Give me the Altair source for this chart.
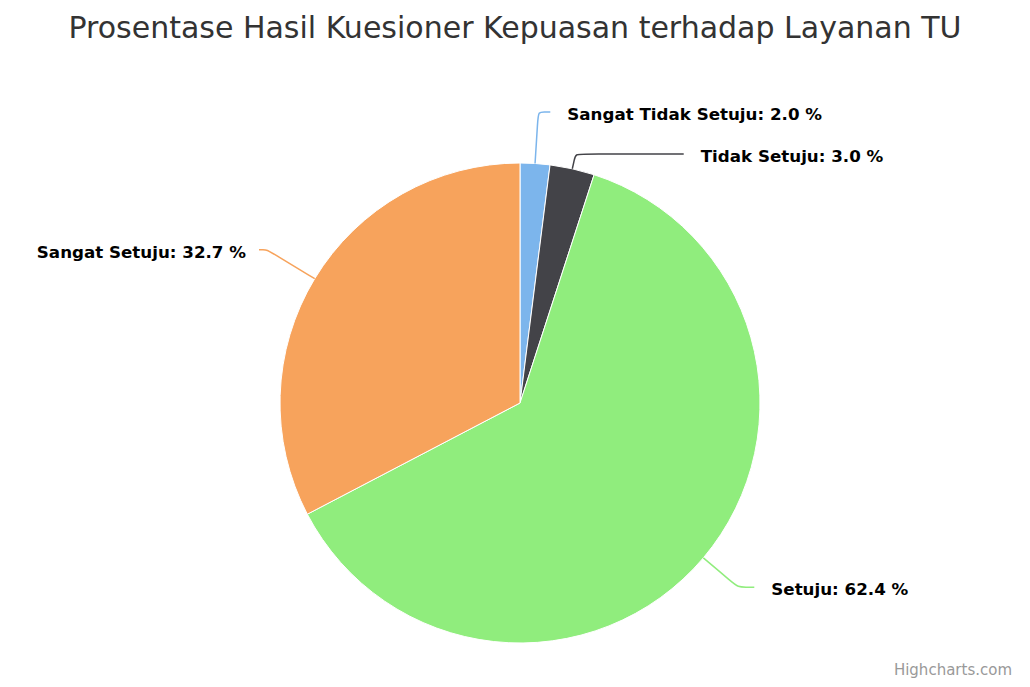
import math
import altair as alt
import pandas as pd

# ---- data ----
categories = ["Sangat Tidak Setuju", "Tidak Setuju", "Setuju", "Sangat Setuju"]
values = [2.0, 3.0, 62.4, 32.7]
colors = ["#7cb5ec", "#434348", "#90ed7d", "#f7a35c"]
title_text = "Prosentase Hasil Kuesioner Kepuasan terhadap Layanan TU"
credit_text = "Highcharts.com"

# ---- layout ----
W, H = 1014, 609
PAD_TOP = 62
CX, CY, R = 512, 333, 240
LABEL_R = 290
CONN_R = 298
SPACING = 42
TOP_LIMIT = CY - 288
FONT = "DejaVu Sans"

total = sum(values)
slices = []
cum = 0.0
for i, (c, v) in enumerate(zip(categories, values)):
    a0 = cum / total * 2 * math.pi
    cum += v
    a1 = cum / total * 2 * math.pi
    mid = (a0 + a1) / 2
    side = 1 if math.sin(mid) >= 0 else -1
    slices.append(dict(i=i, cat=c, val=v, mid=mid, side=side,
                       ny=CY - LABEL_R * math.cos(mid)))

# distribute labels per side
for side in (1, -1):
    grp = sorted([s for s in slices if s["side"] == side], key=lambda s: s["ny"])
    prev = None
    for s in grp:
        y = s["ny"]
        s["clamped"] = y < TOP_LIMIT
        y = max(y, TOP_LIMIT)
        if prev is not None:
            y = max(y, prev + SPACING)
        s["ly"] = y
        prev = y

conn_rows, lab_rows = [], []
for s in slices:
    a, side = s["mid"], s["side"]
    sa, ca = math.sin(a), math.cos(a)
    ex, ey = CX + R * sa, CY - R * ca
    endy = s["ly"] - 3
    dy = endy - CY
    # radial line meets the label's row here
    rr = abs(dy / ca) if abs(ca) > 1e-6 else R + 30
    rr = max(rr, R + 10)
    kx, ky = CX + rr * sa, CY - rr * ca
    ky = endy
    if s["clamped"]:
        endx = kx + side * 12
    else:
        endx = CX + side * math.sqrt(max(CONN_R ** 2 - dy ** 2, 0))
        if side > 0:
            endx = max(endx, kx + 8)
        else:
            endx = min(endx, kx - 8)
    # points near corner for a rounded bend
    L = math.hypot(kx - ex, ky - ey)
    t = min(8, L * 0.4) / L
    n1 = (kx - (kx - ex) * t, ky - (ky - ey) * t)
    h = min(8, abs(endx - kx) * 0.5)
    n2 = (kx + side * h, ky)
    pts = [(ex, ey), n1, (kx, ky), n2, (endx, endy)]
    for k, (px, py) in enumerate(pts):
        conn_rows.append(dict(category=s["cat"], x=px, y=py, ord=k))
    tx = endx + 17 if side > 0 else endx - 13
    lab_rows.append(dict(category=s["cat"], x=tx, y=s["ly"], side=side,
                         label=f"{s['cat']}: {s['val']:.1f} %"))

pie_df = pd.DataFrame({"category": categories, "value": values,
                       "idx": list(range(len(categories)))})
conn_df = pd.DataFrame(conn_rows)
lab_df = pd.DataFrame(lab_rows)

color_scale = alt.Scale(domain=categories, range=colors)

pie = alt.Chart(pie_df).mark_arc(outerRadius=R, stroke="#ffffff", strokeWidth=1).encode(
    theta=alt.Theta("value:Q", stack=True),
    color=alt.Color("category:N", scale=color_scale, legend=None),
    order=alt.Order("idx:Q"),
    x=alt.value(CX),
    y=alt.value(CY),
)

conn = alt.Chart(conn_df).mark_line(strokeWidth=1.5, interpolate="basis").encode(
    x=alt.X("x:Q", scale=None, axis=None),
    y=alt.Y("y:Q", scale=None, axis=None),
    detail="category:N",
    order="ord:Q",
    color=alt.Color("category:N", scale=color_scale, legend=None),
)

lab_right = alt.Chart(lab_df).transform_filter("datum.side > 0").mark_text(
    align="left", baseline="middle", font=FONT, fontSize=16.7, fontWeight="bold", color="#000000"
).encode(
    x=alt.X("x:Q", scale=None, axis=None),
    y=alt.Y("y:Q", scale=None, axis=None),
    text="label:N",
)
lab_left = alt.Chart(lab_df).transform_filter("datum.side < 0").mark_text(
    align="right", baseline="middle", font=FONT, fontSize=16.7, fontWeight="bold", color="#000000"
).encode(
    x=alt.X("x:Q", scale=None, axis=None),
    y=alt.Y("y:Q", scale=None, axis=None),
    text="label:N",
)

credit = alt.Chart(pd.DataFrame({"t": [credit_text]})).mark_text(
    align="right", baseline="alphabetic", font=FONT, fontSize=15, color="#999999"
).encode(x=alt.value(W - 10), y=alt.value(H - 4), text="t:N")

chart = alt.layer(pie, conn, lab_right, lab_left, credit).properties(
    width=W, height=H,
    autosize=alt.AutoSizeParams(type="none"),
    padding={"left": 0, "top": PAD_TOP, "right": 0, "bottom": 0},
    title=alt.TitleParams(title_text, anchor="middle", font=FONT, fontSize=30,
                          fontWeight="normal", color="#333333", offset=26),
).configure_view(stroke=None)

chart.save("out.html", embed_options={"renderer": "svg", "actions": False})
